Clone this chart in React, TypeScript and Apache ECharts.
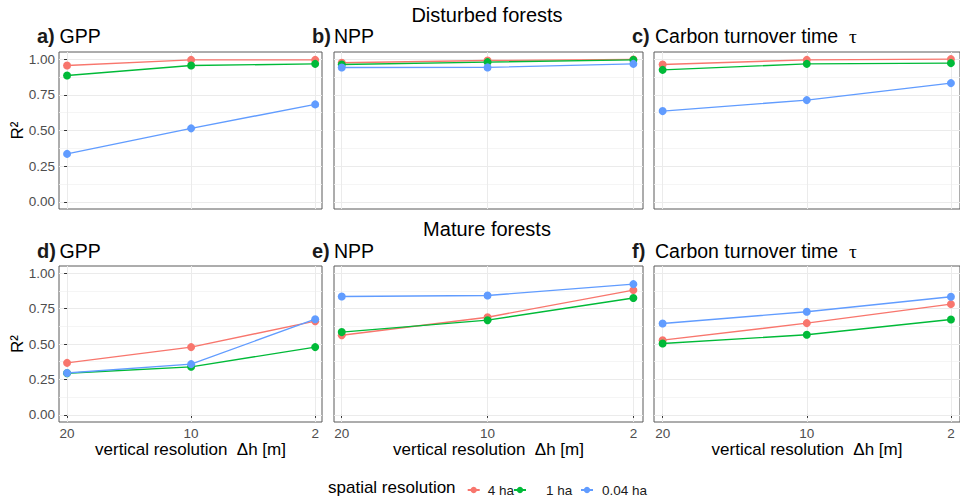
import React, { useEffect, useRef } from 'react';
import * as echarts from 'echarts';

// ---- data ----
const xTickLabels = ['20', '10', '2'];
const resolutionNames = ['4 ha', '1 ha', '0.04 ha'];
const yTicks = [0, 0.25, 0.5, 0.75, 1];
const yMinorTicks = [0.125, 0.375, 0.625, 0.875];

// rows: 4 ha, 1 ha, 0.04 ha ; columns: Δh = 20, 10, 2 m
const disturbedGPP = [[0.955, 0.995, 0.995], [0.885, 0.955, 0.967], [0.336, 0.515, 0.683]];
const disturbedNPP = [[0.975, 0.99, 0.998], [0.962, 0.979, 0.995], [0.941, 0.942, 0.967]];
const disturbedTau = [[0.962, 0.995, 1.0], [0.925, 0.967, 0.972], [0.636, 0.713, 0.832]];
const matureGPP = [[0.367, 0.478, 0.661], [0.294, 0.339, 0.478], [0.296, 0.358, 0.675]];
const matureNPP = [[0.562, 0.689, 0.88], [0.584, 0.668, 0.824], [0.835, 0.842, 0.922]];
const matureTau = [[0.527, 0.647, 0.781], [0.504, 0.565, 0.673], [0.645, 0.727, 0.833]];

const panelData = [disturbedGPP, disturbedNPP, disturbedTau, matureGPP, matureNPP, matureTau];
const panelTags = ['a)', 'b)', 'c)', 'd)', 'e)', 'f)'];
const panelTitles = ['GPP', 'NPP', 'Carbon turnover time  {tau|τ}', 'GPP', 'NPP', 'Carbon turnover time  {tau|τ}'];
const rowTitles = ['Disturbed forests', 'Mature forests'];
const xAxisTitle = 'vertical resolution  Δh [m]';
const yAxisTitle = 'R²';
const legendTitle = 'spatial resolution';

// ---- layout / style ----
const seriesColors = ['#F8766D', '#00BA38', '#619CFF'];
const FONT = '"Liberation Sans", Arial, sans-serif';
const colBoxes = [
  { left: 59, width: 263, xmin: -0.065, xmax: 2.055, tagX: 37, titleX: 59.5 },
  { left: 334, width: 309, xmin: -0.053, xmax: 2.066, tagX: 312, titleX: 334 },
  { left: 654, width: 310, xmin: -0.06, xmax: 2.063, tagX: 632, titleX: 655 },
];
const rowBoxes = [
  { top: 52, height: 157, titleY: 36, rowTitleY: 14.5 },
  { top: 266, height: 156, titleY: 251, rowTitleY: 228.5 },
];
const legendPos = [
  { left: 466.7, pad: 3 },
  { left: 513, pad: 15 },
  { left: 580, pad: 4 },
];

export default function App() {
  const ref = useRef<HTMLDivElement>(null);

  useEffect(() => {
    if (!ref.current) return;
    const chart = echarts.init(ref.current, null, { renderer: 'svg' });

    const grids: any[] = [];
    const xAxes: any[] = [];
    const yAxes: any[] = [];
    const minorAxes: any[] = [];
    const series: any[] = [];
    const graphics: any[] = [];

    for (let g = 0; g < 6; g++) {
      const r = Math.floor(g / 3);
      const c = g % 3;
      const col = colBoxes[c];
      const row = rowBoxes[r];
      grids.push({
        left: col.left, width: col.width, top: row.top, height: row.height,
        show: true, borderColor: '#5a5a5a', borderWidth: 1, backgroundColor: 'transparent',
        containLabel: false,
      });
      const bottomRow = r === 1;
      xAxes.push({
        gridIndex: g, type: 'value', min: col.xmin, max: col.xmax,
        axisLine: { show: false },
        axisTick: { show: bottomRow, customValues: [0, 1, 2], length: 3, lineStyle: { color: '#333' } },
        axisLabel: {
          show: bottomRow, customValues: [0, 1, 2], margin: 4,
          formatter: (v: number) => xTickLabels[Math.round(v)],
          color: '#4D4D4D', fontSize: 13.5, fontFamily: FONT,
        },
        splitLine: { show: true, lineStyle: { color: '#EBEBEB', width: 1 } },
        name: bottomRow ? xAxisTitle : '', nameLocation: 'middle', nameGap: 19,
        nameTextStyle: { color: '#000', fontSize: 17, fontFamily: FONT, verticalAlign: 'top' },
      });
      yAxes.push({
        gridIndex: g, type: 'value', min: -0.05, max: 1.05,
        axisLine: { show: false },
        axisTick: { show: c === 0, customValues: yTicks, length: 3, lineStyle: { color: '#333' } },
        axisLabel: {
          show: c === 0, customValues: yTicks, margin: 4,
          formatter: (v: number) => v.toFixed(2),
          color: '#4D4D4D', fontSize: 13.5, fontFamily: FONT,
        },
        splitLine: { show: true, lineStyle: { color: '#EBEBEB', width: 1 } },
        z: 1,
      });
      minorAxes.push({
        gridIndex: g, type: 'value', min: -0.05, max: 1.05, position: 'right',
        axisLine: { show: false },
        axisTick: { show: false, customValues: yMinorTicks },
        axisLabel: { show: false, customValues: yMinorTicks },
        splitLine: { show: true, lineStyle: { color: '#F3F3F3', width: 0.8 } },
        z: 0,
      });
      const vals = panelData[g];
      for (let s = 0; s < 3; s++) {
        series.push({
          type: 'line', name: resolutionNames[s], xAxisIndex: g, yAxisIndex: g,
          data: xTickLabels.map((_, i) => [i, vals[s][i]]),
          symbol: 'circle', symbolSize: 8,
          lineStyle: { color: seriesColors[s], width: 1.4 },
          itemStyle: { color: seriesColors[s] },
          z: 3 + s,
          silent: true,
        });
      }
      graphics.push({
        type: 'text', x: col.tagX, y: row.titleY,
        style: { text: panelTags[g], fontSize: 20, fontWeight: 'bold', fontFamily: FONT, fill: '#1a1a1a', verticalAlign: 'middle', align: 'left' },
      });
      graphics.push({
        type: 'text', x: col.titleX, y: row.titleY,
        style: {
          text: panelTitles[g], fontSize: 19.5, fontFamily: FONT, fill: '#000', verticalAlign: 'middle', align: 'left',
          rich: { tau: { fontSize: 19.5, fontFamily: '"Liberation Serif", "DejaVu Serif", serif', fill: '#000' } },
        },
      });
    }
    for (let r = 0; r < 2; r++) {
      const row = rowBoxes[r];
      graphics.push({
        type: 'text', x: 487, y: row.rowTitleY,
        style: { text: rowTitles[r], fontSize: 20, fontFamily: FONT, fill: '#000', align: 'center', verticalAlign: 'middle' },
      });
      graphics.push({
        type: 'text', x: 17, y: row.top + row.height / 2, rotation: Math.PI / 2,
        style: { text: yAxisTitle, fontSize: 17, fontFamily: FONT, fill: '#000', align: 'center', verticalAlign: 'middle' },
      });
    }
    graphics.push({
      type: 'text', x: 328, y: 487,
      style: { text: legendTitle, fontSize: 17, fontFamily: FONT, fill: '#000', align: 'left', verticalAlign: 'middle' },
    });

    const legends = resolutionNames.map((name, i) => ({
      data: [name], left: legendPos[i].left, top: 483, orient: 'horizontal',
      itemWidth: 12, itemHeight: 8, padding: 0, selectedMode: false,
      textStyle: { fontSize: 13.5, fontFamily: FONT, color: '#1a1a1a', padding: [0, 0, 0, legendPos[i].pad] },
    }));

    chart.setOption({
      animation: false,
      backgroundColor: '#ffffff',
      grid: grids,
      xAxis: xAxes,
      yAxis: [...yAxes, ...minorAxes],
      series,
      legend: legends,
      graphic: graphics,
    });

    return () => chart.dispose();
  }, []);

  return <div ref={ref} style={{ position: 'absolute', left: 0, top: 0, width: 960, height: 501 }} />;
}
